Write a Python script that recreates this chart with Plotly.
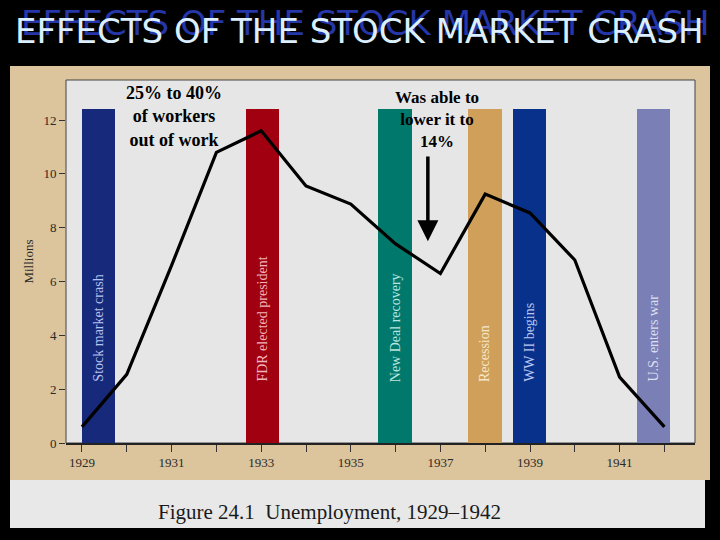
import plotly.graph_objects as go

# ---- data ----
years = [1929, 1930, 1931, 1932, 1933, 1934, 1935, 1936, 1937, 1938, 1939, 1940, 1941, 1942]
unemployed_millions = [0.6, 2.55, 6.6, 10.8, 11.6, 9.55, 8.88, 7.4, 6.3, 9.25, 8.55, 6.8, 2.45, 0.6]
tick_labels = ["1929", "", "1931", "", "1933", "", "1935", "", "1937", "", "1939", "", "1941", ""]
y_tick_vals = [0, 2, 4, 6, 8, 10, 12]

event_labels = ["Stock market crash", "FDR elected president", "New Deal recovery",
                "Recession", "WW II begins", "U.S. enters war"]
event_start = [1929.0, 1932.65, 1935.6, 1937.61, 1938.62, 1941.38]
event_end = [1929.73, 1933.4, 1936.37, 1938.37, 1939.36, 1942.12]
event_top = 12.4
event_colors = ["#17297a", "#a0000f", "#00786b", "#d0a05a", "#08318c", "#7a7fb5"]
event_text_colors = ["#b8c4f0", "#f2b4bc", "#b8e6e0", "#f5e6c8", "#b8c8f0", "#dcdff2"]

title_text = "EFFECTS OF THE STOCK MARKET CRASH"
caption_text = "Figure 24.1  Unemployment, 1929\u20131942"
note_left = "<b>25% to 40%<br>of workers<br>out of work</b>"
note_right = "<b>Was able to<br>lower it to<br>14%</b>"

SERIF = "Liberation Serif, Times New Roman, serif"
TITLE_FONT = "DejaVu Sans, sans-serif"

# ---- layout geometry (pixels) ----
W, H = 720, 540
L, R, T, B = 66, 695, 80, 443


def px_x(p):
    return (p - L) / (R - L)


def px_y(p):
    return (B - p) / (B - T)


fig = go.Figure()

# event bars
widths = [e - s for s, e in zip(event_start, event_end)]
centers = [(s + e) / 2 for s, e in zip(event_start, event_end)]
fig.add_trace(go.Bar(
    x=centers, y=[event_top] * len(centers), width=widths,
    marker=dict(color=event_colors, line=dict(width=0)),
    hoverinfo="skip", showlegend=False,
))

# unemployment line
fig.add_trace(go.Scatter(
    x=years, y=unemployed_millions, mode="lines",
    line=dict(color="black", width=3.2), showlegend=False,
))

shapes = [
    dict(type="rect", xref="paper", yref="paper", layer="below",
         x0=px_x(10), x1=px_x(710), y0=px_y(480), y1=px_y(66),
         fillcolor="#dcc49c", line=dict(width=0)),
    dict(type="rect", xref="paper", yref="paper", layer="below",
         x0=px_x(10), x1=px_x(705), y0=px_y(528), y1=px_y(480),
         fillcolor="#e8e8e8", line=dict(width=0)),
    dict(type="rect", xref="paper", yref="paper", layer="below",
         x0=0, x1=1, y0=0, y1=1,
         fillcolor="#e6e6e6", line=dict(color="#444444", width=1)),
]

annotations = []
for c, lab, tc in zip(centers, event_labels, event_text_colors):
    annotations.append(dict(
        x=c, y=2.2, xref="x", yref="y", text=lab, textangle=-90,
        showarrow=False, xanchor="center", yanchor="bottom",
        font=dict(family=SERIF, size=14, color=tc),
    ))

# title: blue shadow + light foreground
annotations.append(dict(
    x=px_x(365), y=px_y(23), xref="paper", yref="paper", text=title_text,
    showarrow=False, xanchor="center", yanchor="middle",
    font=dict(family=TITLE_FONT, size=34, color="#2436a8"),
))
annotations.append(dict(
    x=px_x(359), y=px_y(31), xref="paper", yref="paper", text=title_text,
    showarrow=False, xanchor="center", yanchor="middle",
    font=dict(family=TITLE_FONT, size=34, color="#dcefff"),
))

annotations.append(dict(
    x=px_x(174), y=px_y(81), xref="paper", yref="paper", text=note_left,
    showarrow=False, xanchor="center", yanchor="top", align="center",
    font=dict(family=SERIF, size=18, color="black"),
))
annotations.append(dict(
    x=px_x(437), y=px_y(86), xref="paper", yref="paper", text=note_right,
    showarrow=False, xanchor="center", yanchor="top", align="center",
    font=dict(family=SERIF, size=17, color="black"),
))
annotations.append(dict(
    x=1936.72, y=7.5, xref="x", yref="y", ax=1936.72, ay=10.7, axref="x", ayref="y",
    text="", showarrow=True, arrowhead=2, arrowsize=1.2, arrowwidth=3.5, arrowcolor="black",
))

annotations.append(dict(
    x=px_x(329), y=px_y(512), xref="paper", yref="paper", text=caption_text,
    showarrow=False, xanchor="center", yanchor="middle",
    font=dict(family=SERIF, size=21, color="#1a1a1a"),
))

fig.update_layout(
    width=W, height=H,
    margin=dict(l=L, r=W - R, t=T, b=H - B, pad=0),
    paper_bgcolor="black",
    plot_bgcolor="rgba(0,0,0,0)",
    shapes=shapes,
    annotations=annotations,
    bargap=0,
    showlegend=False,
    xaxis=dict(
        range=[1928.643, 1942.683], tickvals=years, ticktext=tick_labels,
        ticks="outside", ticklen=7, tickwidth=1, tickcolor="#333333",
        showline=True, linecolor="#222222", linewidth=1.5, showgrid=False, zeroline=False,
        tickfont=dict(family=SERIF, size=13, color="#2a2a2a"),
        fixedrange=True,
    ),
    yaxis=dict(
        range=[0, 13.49], tickvals=y_tick_vals,
        ticks="outside", ticklen=6, tickwidth=1, tickcolor="#333333",
        showline=False, showgrid=False, zeroline=False,
        tickfont=dict(family=SERIF, size=13, color="#2a2a2a"),
        title=dict(text="Millions", standoff=6,
                   font=dict(family=SERIF, size=13, color="#2a2a2a")),
        fixedrange=True,
    ),
)

fig.write_html(
    "out.html",
    config={"displayModeBar": False},
    post_script="document.body.style.margin='0';document.body.style.background='black';",
)
